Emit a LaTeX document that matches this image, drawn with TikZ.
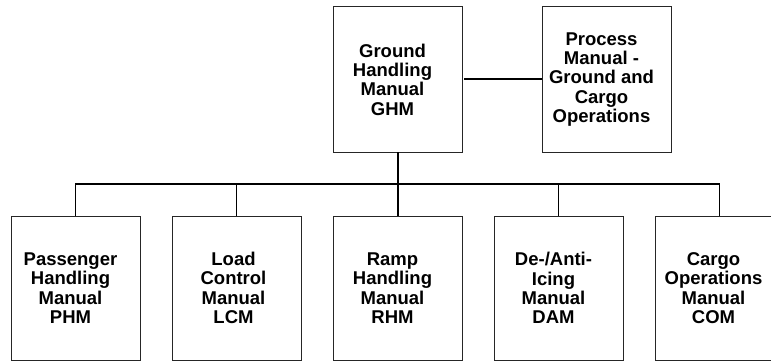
\documentclass[tikz,border=0pt]{standalone}
\usepackage{fontspec}
\setmainfont{Liberation Sans}
\begin{document}
\begin{tikzpicture}[x=1pt,y=-1pt,
  box/.style={draw=black!85,line width=1pt,minimum width=129pt,inner sep=0pt,outer sep=0pt},
  topbox/.style={box,minimum height=145pt},
  botbox/.style={box,minimum height=144pt},
  lbl/.style={font=\fontsize{18.5}{19.3}\selectfont\bfseries,align=center,inner sep=0pt},
  thick line/.style={line width=2pt},
  bus/.style={line width=1.3pt}]
\useasboundingbox (0,0) rectangle (771,361);
\clip (0,0) rectangle (771,361);
% top boxes
\node[topbox] (ghm) at (397.5,79.5) {};
\node[topbox] (proc) at (606.5,79.5) {};
\node[lbl] at ([xshift=-5pt]ghm.center) {Ground\\Handling\\Manual\\GHM};
\node[lbl] at ([xshift=-5pt]proc.center) {Process\\Manual -\\Ground and\\Cargo\\Operations};
% bottom boxes
\node[botbox] (phm) at (75.5,288) {};
\node[botbox] (lcm) at (236.5,288) {};
\node[botbox] (rhm) at (397.5,288) {};
\node[botbox] (dam) at (558.5,288) {};
\node[botbox] (com) at (719.5,288) {};
\node[lbl] at ([xshift=-5pt]phm.center) {Passenger\\Handling\\Manual\\PHM};
\node[lbl] at ([xshift=-3pt]lcm.center) {Load\\Control\\Manual\\LCM};
\node[lbl] at ([xshift=-5pt]rhm.center) {Ramp\\Handling\\Manual\\RHM};
\node[lbl] at ([xshift=-5pt]dam.center) {De-/Anti-\\Icing\\Manual\\DAM};
\node[lbl] at ([xshift=-6pt]com.center) {Cargo\\Operations\\Manual\\COM};
% connectors
\draw[thick line] ([xshift=2pt]ghm.east) -- (proc.west);
\draw[thick line] (ghm.south) -- (rhm.north);
\coordinate (busy) at (0,184);
\draw[bus] (phm.north) |- (busy -| lcm.north) -- (busy -| com.north) -- (com.north);
\draw[bus] (lcm.north) -- (busy -| lcm.north);
\draw[bus] (dam.north) -- (busy -| dam.north);
\end{tikzpicture}
\end{document}
